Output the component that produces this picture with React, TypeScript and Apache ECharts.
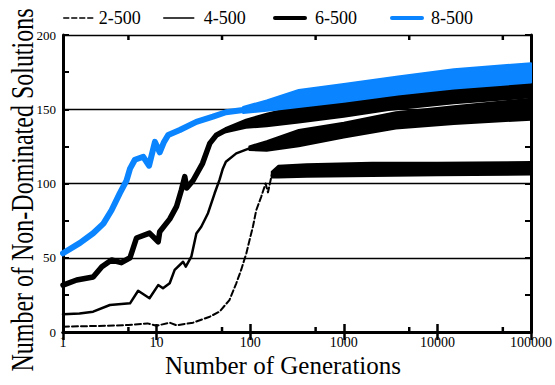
import React, { useEffect, useRef } from "react";
import * as echarts from "echarts";

const FONT = "Liberation Serif";

// ---- data ----
const names = ["2-500", "4-500", "6-500", "8-500"];

// 2-500 (dashed)
const s2Gen = [1, 2, 3, 5, 8, 10, 13.8, 16.3, 24.5, 37, 47, 60, 71, 80, 91, 98.5, 107, 116, 131, 146, 155, 170];
const s2Val = [3.6, 4, 4.2, 4.7, 5.8, 4.2, 6.3, 4.5, 6.3, 10.3, 13.7, 21.5, 32.8, 41.8, 53, 62, 71, 82, 91, 100, 94, 106];
const s2BandGen = [170, 200, 400, 2000, 10000, 100000];
const s2BandUp = [108, 112, 113, 114, 114, 114.5];
const s2BandLo = [104, 104, 104.5, 105, 105.5, 106];

// 4-500 (thin)
const s4Gen = [1, 1.5, 2.1, 3.17, 5.2, 6.35, 8.4, 10.4, 11.7, 13.8, 15.6, 19.2, 20.5, 23.5, 26.6, 30, 32.6, 35.4, 41.7, 47, 51, 55, 71, 98];
const s4Val = [12, 12.5, 13.7, 18.2, 19.3, 27.8, 22.7, 31.6, 29.4, 32.8, 41.8, 47.3, 44, 50.7, 66.4, 70.9, 75.4, 80, 93.4, 102.4, 110, 114.7, 120.3, 123.7];
const s4BandGen = [98, 150, 330, 1000, 3600, 15000, 100000];
const s4BandUp = [125, 128.5, 136, 141, 148, 152, 157];
const s4BandLo = [122.5, 122, 125, 131, 137, 140, 143];

// 6-500 (thick)
const s6Gen = [1, 1.4, 2.1, 2.6, 3.3, 4.2, 5.2, 6.1, 8.4, 10.4, 10.8, 13.8, 16.3, 18.4, 20, 21, 24.5, 31, 37, 43.5, 55];
const s6Val = [31.6, 35, 37, 44, 48.5, 46.7, 50, 63.3, 66.6, 60.8, 67.5, 76, 84.4, 95.6, 104.6, 97, 102, 113.6, 127, 132.6, 136];
const s6BandGen = [55, 90, 150, 330, 1000, 3000, 15000, 100000];
const s6BandUp = [137.5, 143, 147, 152, 157, 161, 165, 169];
const s6BandLo = [134.5, 137.5, 138.5, 141, 145, 149.5, 154, 158];

// 8-500 (blue)
const s8Gen = [1, 1.52, 2.1, 2.7, 3.3, 4.05, 4.77, 5.2, 5.86, 7.2, 8.3, 9.6, 10.8, 12, 13.3, 17.7, 26.6, 40, 55, 84];
const s8Val = [53, 60, 66.5, 73, 82, 93.5, 102, 110, 116, 118, 112, 128, 121, 128, 132.7, 136, 141.5, 145, 148, 149.5];
const s8BandGen = [84, 150, 330, 1000, 3800, 15000, 100000];
const s8BandUp = [151.5, 156, 163, 167, 172, 177, 181];
const s8BandLo = [147.5, 149, 151.5, 155, 160, 164, 168];

const xMinorTicks = [5, 50, 500, 5000, 50000];
const yMin = 0;
const yMax = 200;
const xMin = 1;
const xMax = 100000;

const BLUE = "#0a84ff";

function lineSeries(name: string, gen: number[], val: number[], color: string, width: number, dash?: number[]) {
  return {
    name,
    type: "line",
    data: gen.map((g, i) => [g, val[i]]),
    symbol: "none",
    showSymbol: false,
    silent: true,
    itemStyle: { color },
    lineStyle: { color, width, type: dash ? dash : "solid", cap: "round", join: "round" },
    z: 3,
  };
}

function bandSeries(gen: number[], up: number[], lo: number[], color: string) {
  return {
    type: "custom",
    coordinateSystem: "cartesian2d",
    silent: true,
    data: [[gen[0], up[0]]],
    encode: { x: 0, y: 1 },
    z: 3,
    renderItem: (_p: any, api: any) => {
      const pts: number[][] = [];
      for (let i = 0; i < gen.length; i++) pts.push(api.coord([gen[i], up[i]]));
      for (let i = gen.length - 1; i >= 0; i--) pts.push(api.coord([gen[i], lo[i]]));
      return {
        type: "polygon",
        shape: { points: pts },
        style: { fill: color, stroke: color, lineWidth: 2, lineJoin: "round" },
      };
    },
  };
}

function legendFor(name: string, left: number, width: number, textPad: number, dash?: number[]) {
  return {
    data: [name],
    left,
    top: 9,
    padding: 0,
    itemWidth: 30,
    itemHeight: 14,
    selectedMode: false,
    itemStyle: { opacity: 0, borderWidth: 0 },
    textStyle: { fontFamily: FONT, fontSize: 18, color: "#000", padding: [0, 0, 0, textPad] },
    lineStyle: { width, type: dash ? dash : "solid", opacity: 1 },
  };
}

export default function App() {
  const ref = useRef<HTMLDivElement>(null);
  useEffect(() => {
    if (!ref.current) return;
    const chart = echarts.init(ref.current, undefined, { renderer: "svg" });
    const axisLine = { show: true, lineStyle: { color: "#000", width: 3 } };
    chart.setOption({
      animation: false,
      backgroundColor: "#fff",
      textStyle: { fontFamily: FONT },
      grid: { left: 63, right: 23, top: 35, bottom: 53 },
      legend: [
        legendFor(names[0], 63, 1.5, 0, [5, 3]),
        legendFor(names[1], 163, 1.5, 5),
        legendFor(names[2], 273, 4, 5),
        legendFor(names[3], 390, 4, 4),
      ],
      xAxis: [
        {
          type: "log",
          logBase: 10,
          min: xMin,
          max: xMax,
          position: "bottom",
          axisLine,
          axisTick: { show: true, inside: true, length: 8, lineStyle: { color: "#000", width: 2.5 } },
          axisLabel: {
            fontFamily: FONT,
            fontSize: 14,
            color: "#000",
            margin: 3,
            formatter: (v: number) => String(Math.round(v)),
          },
          splitLine: { show: false },
        },
        {
          type: "log",
          logBase: 10,
          min: xMin,
          max: xMax,
          position: "top",
          axisLine,
          axisTick: { show: true, inside: true, length: 8, lineStyle: { color: "#000", width: 2.5 } },
          axisLabel: { show: false },
          splitLine: { show: false },
        },
      ],
      yAxis: [
        {
          type: "value",
          min: yMin,
          max: yMax,
          interval: 50,
          position: "left",
          axisLine,
          axisTick: { show: true, inside: true, length: 6, lineStyle: { color: "#000", width: 2 } },
          minorTick: { show: true, splitNumber: 2, length: 6, lineStyle: { color: "#000", width: 2 } },
          axisLabel: { fontFamily: FONT, fontSize: 13, color: "#000", margin: 7 },
          splitLine: { show: true, lineStyle: { color: "#000", width: 1.4 } },
        },
        {
          type: "value",
          min: yMin,
          max: yMax,
          interval: 50,
          position: "right",
          axisLine,
          axisTick: { show: true, inside: true, length: 6, lineStyle: { color: "#000", width: 2 } },
          minorTick: { show: true, splitNumber: 2, length: 6, lineStyle: { color: "#000", width: 2 } },
          axisLabel: { show: false },
          splitLine: { show: false },
        },
      ],
      graphic: [
        {
          type: "text",
          x: 22,
          y: 190,
          rotation: Math.PI / 2,
          scaleX: 1,
          scaleY: 1.33,
          silent: true,
          style: {
            text: "Number of Non-Dominated Solutions",
            fontFamily: FONT,
            fontSize: 24,
            fill: "#000",
            align: "center",
            verticalAlign: "middle",
          },
        },
        {
          type: "text",
          x: 283,
          y: 365,
          silent: true,
          style: {
            text: "Number of Generations",
            fontFamily: FONT,
            fontSize: 25,
            fill: "#000",
            align: "center",
            verticalAlign: "middle",
          },
        },
      ],
      series: [
        lineSeries(names[0], s2Gen, s2Val, "#000", 2, [6, 3]),
        bandSeries(s2BandGen, s2BandUp, s2BandLo, "#000"),
        lineSeries(names[1], s4Gen, s4Val, "#000", 2.5),
        bandSeries(s4BandGen, s4BandUp, s4BandLo, "#000"),
        lineSeries(names[2], s6Gen, s6Val, "#000", 5.5),
        bandSeries(s6BandGen, s6BandUp, s6BandLo, "#000"),
        lineSeries(names[3], s8Gen, s8Val, BLUE, 6),
        bandSeries(s8BandGen, s8BandUp, s8BandLo, BLUE),
        {
          type: "custom",
          coordinateSystem: "cartesian2d",
          silent: true,
          data: xMinorTicks.map((v) => [v, yMin]),
          encode: { x: 0, y: 1 },
          z: 5,
          renderItem: (_p: any, api: any) => {
            const v = api.value(0);
            const b = api.coord([v, yMin]);
            const t = api.coord([v, yMax]);
            return {
              type: "group",
              children: [
                { type: "line", shape: { x1: b[0], y1: b[1], x2: b[0], y2: b[1] - 5 }, style: { stroke: "#000", lineWidth: 2.5 } },
                { type: "line", shape: { x1: t[0], y1: t[1], x2: t[0], y2: t[1] + 5 }, style: { stroke: "#000", lineWidth: 2.5 } },
              ],
            };
          },
        },
      ],
    });
    return () => chart.dispose();
  }, []);
  return <div ref={ref} style={{ position: "fixed", left: 0, top: 0, width: 555, height: 385 }} />;
}
